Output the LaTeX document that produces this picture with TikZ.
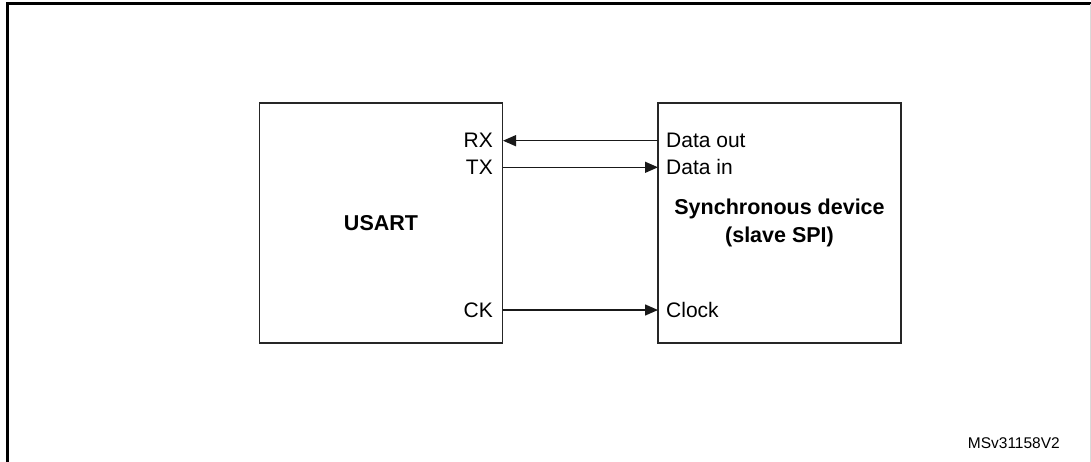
\documentclass[tikz,border=0pt]{standalone}
\usepackage{fontspec}
\setmainfont{Liberation Sans}
\usetikzlibrary{arrows.meta}
\begin{document}
\begin{tikzpicture}[x=1pt,y=-1pt,
  blk/.style={draw=black!85,line width=1.6pt,minimum width=243pt,minimum height=240pt,inner sep=0pt,font=\fontsize{21.5}{28.5}\selectfont\bfseries,align=center},
  port/.style={inner sep=0pt,font=\fontsize{21}{25}\selectfont},
  arr/.style={draw=black!90,line width=1.4pt,-{Triangle[length=13pt,width=11pt]}},
  frame/.style={draw=black,line width=2.2pt}]
\useasboundingbox (0,0) rectangle (1091,462);
\draw[frame] (7.5,462) -- (7.5,3.5) -- (1091,3.5);
\draw[black!15,line width=1pt] (1090,4.5) -- (1090,462);
\node[blk] (usart) at (381,223) {USART};
\node[blk] (sync) at (779.5,223) {Synchronous device\\(slave SPI)};
\node[port,anchor=base east] (rx) at (493,147.5) {RX};
\node[port,anchor=base east] (tx) at (493,174.5) {TX};
\node[port,anchor=base east] (ck) at (493,317) {CK};
\node[port,anchor=base west] (dout) at (666,147.5) {Data out};
\node[port,anchor=base west] (din) at (666,174.5) {Data in};
\node[port,anchor=base west] (clk) at (666,317) {Clock};
\coordinate (rxp) at (503,140.7);
\coordinate (txp) at (503,167.3);
\coordinate (ckp) at (503,310);
\coordinate (doutp) at (658,140.7);
\coordinate (dinp) at (658,167.3);
\coordinate (clkp) at (658,310);
\draw[arr] (doutp) -- (rxp);
\draw[arr] (txp) -- (dinp);
\draw[arr] (ckp) -- (clkp);
\node[inner sep=0pt,anchor=base east,font=\fontsize{15.5}{18}\selectfont] (ref) at (1060,448) {MSv31158V2};
\end{tikzpicture}
\end{document}
